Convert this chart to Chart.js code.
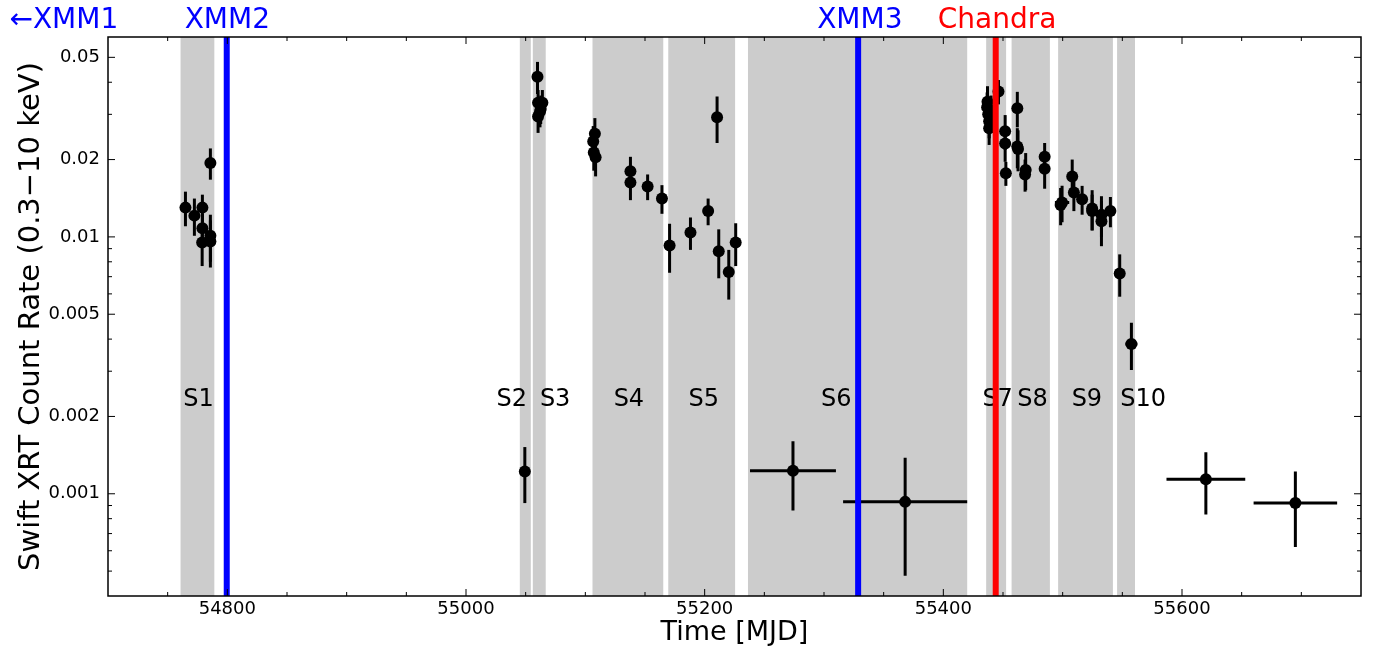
<!DOCTYPE html>
<html>
<head>
<meta charset="utf-8">
<script src="https://cdn.jsdelivr.net/npm/chart.js@4.4.1/dist/chart.umd.min.js"></script>
<style>
  body { margin: 0; background: #fff; }
  #wrap { width: 1377px; height: 649px; }
</style>
</head>
<body>
<div id="wrap"><canvas id="lightCurve"></canvas></div>
<script>
// Swift XRT light curve
const mjd = [
  54764.9, 54772.4, 54779.1, 54779.1, 54778.9, 54785.8, 54785.8, 54785.8,
  55049.3,
  55059.9, 55060.4, 55064.0, 55060.4, 55062.0, 55062.6,
  55108.0, 55106.6, 55107.1, 55108.6, 55137.8, 55137.8, 55152.2, 55164.2,
  55170.6, 55188.1, 55202.9, 55210.4, 55211.8, 55220.2, 55226.0,
  55274.0, 55368.0,
  55437.0, 55436.7, 55437.6, 55438.4, 55438.4, 55440.0, 55446.2, 55451.8, 55451.8, 55452.4,
  55462.0, 55462.0, 55462.6, 55469.0, 55468.5, 55484.9, 55484.9,
  55499.5, 55498.3, 55508.0, 55509.4, 55516.3, 55524.7, 55524.7, 55532.5, 55532.5, 55540.0,
  55547.8, 55557.6,
  55620.0, 55695.0
];
const rate = [
  0.0130, 0.0121, 0.0130, 0.0108, 0.0095, 0.0101, 0.0096, 0.0194,
  0.00122,
  0.0420, 0.0333, 0.0333, 0.0294, 0.0307, 0.0315,
  0.0252, 0.0235, 0.0213, 0.0204, 0.0180, 0.0163, 0.0157, 0.0141,
  0.00925, 0.0104, 0.0126, 0.0292, 0.0088, 0.0073, 0.0095,
  0.00123, 0.00093,
  0.0336, 0.0320, 0.0300, 0.0282, 0.0265, 0.0310, 0.0368, 0.0258, 0.0231, 0.0177,
  0.0317, 0.0225, 0.0220, 0.0182, 0.0175, 0.0205, 0.0184,
  0.0136, 0.0133, 0.0172, 0.0149, 0.0140, 0.0129, 0.0126, 0.0122, 0.0115, 0.0126,
  0.0072, 0.00383,
  0.00114, 0.00092
];
const rateErr = [
  0.0020, 0.0020, 0.0016, 0.0015, 0.0018, 0.0021, 0.0020, 0.0027,
  0.0003,
  0.0060, 0.0040, 0.0040, 0.0040, 0.0040, 0.0040,
  0.0038, 0.0035, 0.0032, 0.0032, 0.0025, 0.0024, 0.0018, 0.0018,
  0.0020, 0.0015, 0.0015, 0.0060, 0.0019, 0.0016, 0.0018,
  0.00037, 0.00045,
  0.0050, 0.0045, 0.0045, 0.0040, 0.0037, 0.0045, 0.0040, 0.0040, 0.0035, 0.0019,
  0.0050, 0.0040, 0.0040, 0.0030, 0.0025, 0.0027, 0.0030,
  0.0022, 0.0022, 0.0028, 0.0023, 0.0018, 0.0023, 0.0020, 0.0022, 0.0023, 0.0017,
  0.00135, 0.0008,
  0.00031, 0.0003
];
const mjdErr = [
  0, 0, 0, 0, 0, 0, 0, 0,
  0,
  0, 0, 0, 0, 0, 0,
  0, 0, 0, 0, 0, 0, 0, 0,
  0, 0, 0, 0, 0, 0, 0,
  36, 52,
  0, 0, 0, 0, 0, 0, 0, 0, 0, 0,
  0, 0, 0, 0, 0, 0, 0,
  6, 0, 0, 0, 0, 0, 0, 0, 0, 0,
  0, 5,
  33, 35
];

// shaded intervals S1..S10
const spanNames = ['S1', 'S2', 'S3', 'S4', 'S5', 'S6', 'S7', 'S8', 'S9', 'S10'];
const spanStart = [54760.8, 55045.1, 55056.0, 55106.0, 55169.5, 55236.3, 55435.9, 55457.2, 55496.2, 55545.6];
const spanEnd   = [54789.1, 55054.3, 55066.8, 55165.3, 55225.5, 55420.0, 55452.6, 55489.3, 55542.1, 55560.6];
const spanLabelX = [54775.8, 55038.4, 55074.7, 55136.5, 55199.2, 55310.2, 55445.5, 55474.8, 55520.3, 55567.5];
const spanLabelY = 0.0022;

// other observatories
const obsNames  = ['XMM2', 'XMM3', 'Chandra'];
const obsMjd    = [54799.5, 55328.6, 55443.9];
const obsColors = ['#0000ff', '#0000ff', '#ff0000'];
const topLabels   = ['\u2190XMM1', 'XMM2', 'XMM3', 'Chandra'];
const topLabelX   = [54663, 54800, 55330, 55445];
const topLabelCol = ['#0000ff', '#0000ff', '#0000ff', '#ff0000'];

const xTickValues = [54800, 55000, 55200, 55400, 55600];
const yTickValues = [0.001, 0.002, 0.005, 0.01, 0.02, 0.05];
const yTickLabels = ['0.001', '0.002', '0.005', '0.01', '0.02', '0.05'];

const FONT = 'DejaVu Sans';

// grey bands + S labels + error bars under the points
const underlay = {
  id: 'underlay',
  beforeDatasetsDraw(chart) {
    const {ctx, chartArea: a, scales: {x, y}} = chart;
    ctx.save();
    ctx.beginPath();
    ctx.rect(a.left, a.top, a.right - a.left, a.bottom - a.top);
    ctx.clip();
    ctx.fillStyle = '#cccccc';
    spanStart.forEach((s, i) => {
      const x0 = x.getPixelForValue(s), x1 = x.getPixelForValue(spanEnd[i]);
      ctx.fillRect(x0, a.top, x1 - x0, a.bottom - a.top);
    });
    ctx.fillStyle = '#000';
    ctx.font = '24px "' + FONT + '"';
    ctx.textAlign = 'center';
    ctx.textBaseline = 'alphabetic';
    spanNames.forEach((n, i) => {
      ctx.fillText(n, x.getPixelForValue(spanLabelX[i]), y.getPixelForValue(spanLabelY));
    });
    ctx.strokeStyle = '#000';
    ctx.lineWidth = 3;
    mjd.forEach((t, i) => {
      const px = x.getPixelForValue(t), py = y.getPixelForValue(rate[i]);
      ctx.beginPath();
      ctx.moveTo(px, y.getPixelForValue(rate[i] + rateErr[i]));
      ctx.lineTo(px, y.getPixelForValue(rate[i] - rateErr[i]));
      if (mjdErr[i] > 0) {
        ctx.moveTo(x.getPixelForValue(t - mjdErr[i]), py);
        ctx.lineTo(x.getPixelForValue(t + mjdErr[i]), py);
      }
      ctx.stroke();
    });
    ctx.restore();
  }
};

// observation lines, frame, inward ticks, labels above the plot
const overlay = {
  id: 'overlay',
  afterDatasetsDraw(chart) {
    const {ctx, chartArea: a, scales: {x, y}} = chart;
    ctx.save();
    ctx.lineWidth = 6;
    obsMjd.forEach((t, i) => {
      const px = x.getPixelForValue(t);
      ctx.strokeStyle = obsColors[i];
      ctx.beginPath();
      ctx.moveTo(px, a.top);
      ctx.lineTo(px, a.bottom);
      ctx.stroke();
    });

    // frame
    ctx.strokeStyle = '#000';
    ctx.lineWidth = 1.5;
    ctx.strokeRect(a.left, a.top, a.right - a.left, a.bottom - a.top);

    // ticks pointing inward on all four sides
    ctx.lineWidth = 1;
    const tick = (px, len, horiz) => {
      ctx.beginPath();
      if (horiz) {
        ctx.moveTo(px, a.bottom); ctx.lineTo(px, a.bottom - len);
        ctx.moveTo(px, a.top); ctx.lineTo(px, a.top + len);
      } else {
        ctx.moveTo(a.left, px); ctx.lineTo(a.left + len, px);
        ctx.moveTo(a.right, px); ctx.lineTo(a.right - len, px);
      }
      ctx.stroke();
    };
    for (let v = 54750; v < x.max; v += 50) {
      tick(x.getPixelForValue(v), xTickValues.includes(v) ? 7 : 4, true);
    }
    [0.0001, 0.001, 0.01].forEach(d => {
      for (let k = 1; k <= 9; k++) {
        const v = +(k * d).toPrecision(3);
        if (v <= y.min || v >= y.max) continue;
        tick(y.getPixelForValue(v), yTickValues.includes(v) ? 7 : 4, false);
      }
    });

    ctx.font = '28px "' + FONT + '"';
    ctx.textAlign = 'center';
    ctx.textBaseline = 'alphabetic';
    topLabels.forEach((s, i) => {
      ctx.fillStyle = topLabelCol[i];
      ctx.fillText(s, x.getPixelForValue(topLabelX[i]), 28);
    });
    ctx.restore();
  }
};

new Chart(document.getElementById('lightCurve'), {
  type: 'scatter',
  data: {
    datasets: [{
      data: mjd.map((t, i) => ({x: t, y: rate[i]})),
      pointRadius: 6,
      pointHoverRadius: 6,
      pointBorderWidth: 0,
      pointBackgroundColor: '#000',
      borderColor: '#000'
    }]
  },
  options: {
    responsive: true,
    maintainAspectRatio: false,
    animation: false,
    layout: { padding: { top: 37, right: 16, left: 0, bottom: 0 } },
    plugins: { legend: { display: false }, tooltip: { enabled: false } },
    scales: {
      x: {
        type: 'linear',
        min: 54700,
        max: 55750,
        afterBuildTicks: s => { s.ticks = xTickValues.map(v => ({value: v})); },
        afterFit: s => { s.height = 53; },
        ticks: { color: '#000', font: { family: FONT, size: 18 }, padding: 3, maxRotation: 0,
                 callback: v => String(v) },
        grid: { display: false, drawTicks: false },
        border: { display: false },
        title: { display: true, text: 'Time [MJD]', color: '#000',
                 font: { family: FONT, size: 27 }, padding: { top: 0, bottom: 0 } }
      },
      y: {
        type: 'logarithmic',
        min: 0.0004,
        max: 0.06,
        afterBuildTicks: s => { s.ticks = yTickValues.map(v => ({value: v})); },
        afterFit: s => { s.width = 108; },
        ticks: { color: '#000', font: { family: FONT, size: 18 }, padding: 8,
                 callback: v => yTickLabels[yTickValues.indexOf(v)] },
        grid: { display: false, drawTicks: false },
        border: { display: false },
        title: { display: true, text: 'Swift XRT Count Rate (0.3\u221210 keV)', color: '#000',
                 font: { family: FONT, size: 29 }, padding: { top: 14, bottom: 0 } }
      }
    }
  },
  plugins: [underlay, overlay]
});
</script>
</body>
</html>
